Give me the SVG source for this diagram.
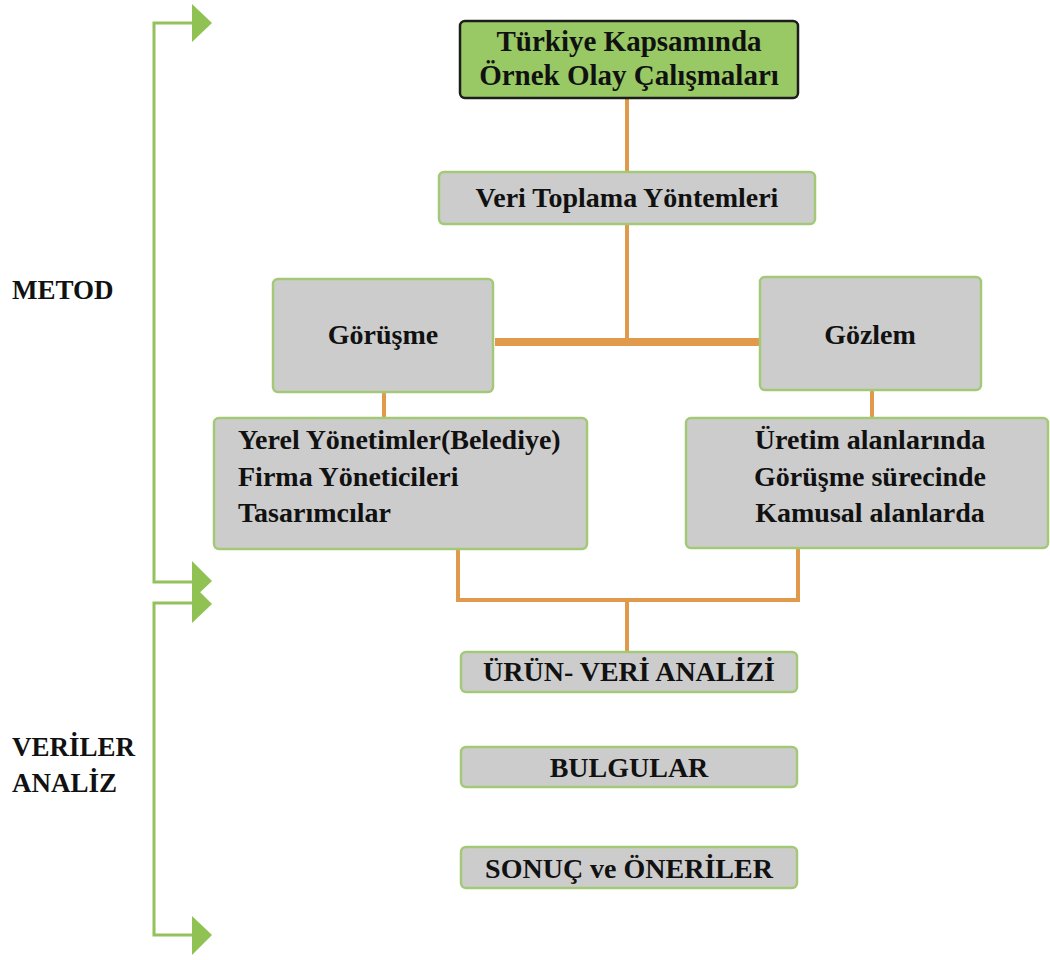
<svg xmlns="http://www.w3.org/2000/svg" width="1050" height="960" viewBox="0 0 1050 960">
  <style>
    .box { fill: #cccccc; stroke: #a3c978; stroke-width: 2.5; }
    .head { fill: #98c964; stroke: #1c1c1c; stroke-width: 2.5; }
    text { font-family: 'Liberation Serif', 'Tinos', 'DejaVu Serif', serif; font-weight: bold; font-size: 28px; fill: #111; }
    .side { font-size: 27px; }
    .c { text-anchor: middle; }
    .big { font-size: 29px; }
    .link { stroke: #e19a4c; stroke-width: 4; fill: none; }
    .thick { stroke-width: 8; }
    .bracket { stroke: #93c25c; stroke-width: 3; fill: none; }
    .tri { fill: #8fc153; }
  </style>

  <!-- side brackets with arrow heads -->
  <g id="brackets">
    <polyline class="bracket" points="193,23 154,23 154,582 193,582"/>
    <polyline class="bracket" points="193,603 154,603 154,935 193,935"/>
    <polygon class="tri" points="192,4 212,23 192,42"/>
    <polygon class="tri" points="192,561 212,581 192,600"/>
    <polygon class="tri" points="192,584 212,604 192,623"/>
    <polygon class="tri" points="192,916 212,935 192,955"/>
  </g>

  <g id="labels">
    <text class="side" x="12" y="299">METOD</text>
    <text class="side" x="12" y="756">VERİLER</text>
    <text class="side" x="12" y="792">ANALİZ</text>
  </g>

  <!-- connectors -->
  <g id="connectors">
    <line class="link" x1="627" y1="98" x2="627" y2="172"/>
    <line class="link" x1="627" y1="224" x2="627" y2="344"/>
    <line class="link thick" x1="495" y1="342" x2="759" y2="342"/>
    <line class="link" x1="384" y1="392" x2="384" y2="418"/>
    <line class="link" x1="872" y1="390" x2="872" y2="418"/>
    <polyline class="link" points="458,549 458,600 798,600 798,548"/>
    <line class="link" x1="627" y1="600" x2="627" y2="652"/>
  </g>

  <g id="node-turkiye">
    <rect class="head" x="460" y="21" width="338" height="77" rx="5"/>
    <text class="c big" x="629" y="51">Türkiye Kapsamında</text>
    <text class="c big" x="629" y="85">Örnek Olay Çalışmaları</text>
  </g>

  <g id="node-veri-toplama">
    <rect class="box" x="439" y="172" width="376" height="52" rx="5"/>
    <text class="c" x="627" y="207">Veri Toplama Yöntemleri</text>
  </g>

  <g id="node-gorusme">
    <rect class="box" x="273" y="279" width="220" height="113" rx="5"/>
    <text class="c" x="383" y="344">Görüşme</text>
  </g>

  <g id="node-gozlem">
    <rect class="box" x="760" y="277" width="221" height="113" rx="5"/>
    <text class="c" x="870" y="344">Gözlem</text>
  </g>

  <g id="node-katilimcilar">
    <rect class="box" x="214" y="418" width="373" height="131" rx="5"/>
    <text x="238" y="449">Yerel Yönetimler(Belediye)</text>
    <text x="238" y="486">Firma Yöneticileri</text>
    <text x="238" y="522">Tasarımcılar</text>
  </g>

  <g id="node-gozlem-alanlari">
    <rect class="box" x="686" y="418" width="362" height="130" rx="5"/>
    <text class="c" x="870" y="449">Üretim alanlarında</text>
    <text class="c" x="870" y="486">Görüşme sürecinde</text>
    <text class="c" x="870" y="522">Kamusal alanlarda</text>
  </g>

  <g id="node-urun-analizi">
    <rect class="box" x="461" y="652" width="336" height="40" rx="5"/>
    <text class="c" x="629" y="681">ÜRÜN- VERİ ANALİZİ</text>
  </g>

  <g id="node-bulgular">
    <rect class="box" x="461" y="747" width="336" height="40" rx="5"/>
    <text class="c" x="629" y="777">BULGULAR</text>
  </g>

  <g id="node-sonuc">
    <rect class="box" x="461" y="847" width="336" height="41" rx="5"/>
    <text class="c" x="629" y="878">SONUÇ ve ÖNERİLER</text>
  </g>
</svg>
